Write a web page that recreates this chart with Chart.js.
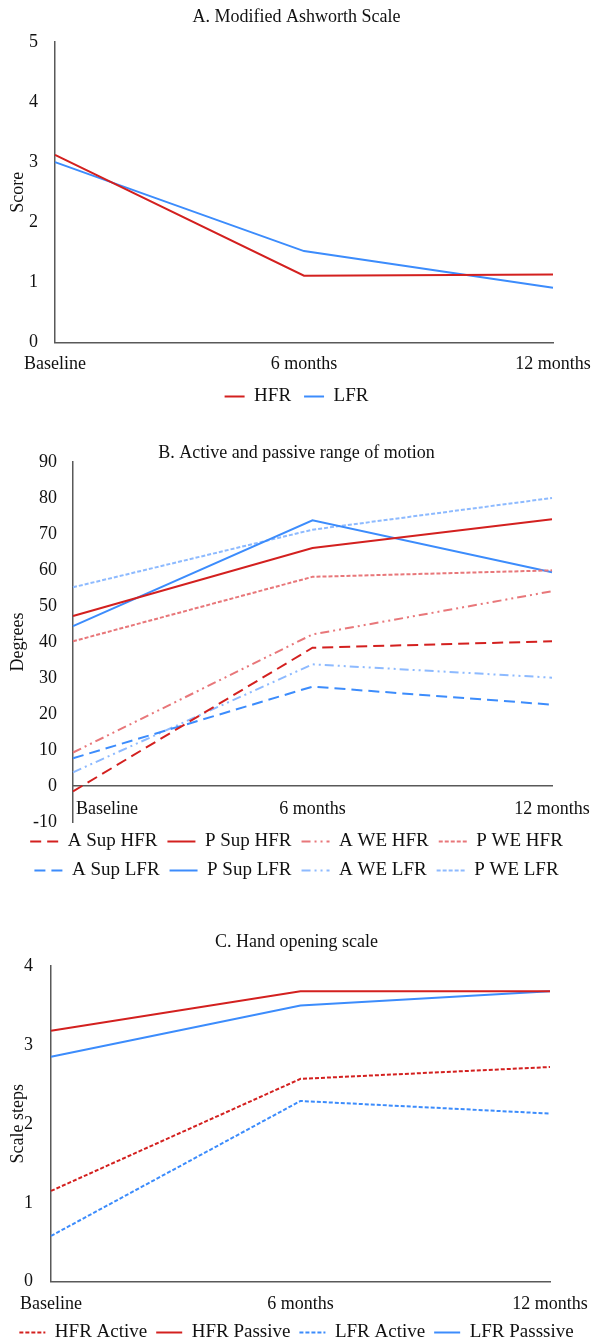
<!DOCTYPE html>
<html>
<head>
<meta charset="utf-8">
<script src="https://cdn.jsdelivr.net/npm/chart.js@4"></script>
<style>
  body { margin: 0; background: #fff; overflow: hidden; }
  .panel { position: absolute; left: 0; }
</style>
</head>
<body>
<div class="panel" style="top:0"><canvas id="chartA" width="593" height="416"></canvas></div>
<div class="panel" style="top:430px"><canvas id="chartB" width="593" height="460"></canvas></div>
<div class="panel" style="top:890px"><canvas id="chartC" width="593" height="462"></canvas></div>
<script>
const categories = ['Baseline', '6 months', '12 months'];

// A. Modified Ashworth Scale
const masHFR = [3.12, 1.11, 1.13];
const masLFR = [3.0, 1.52, 0.91];

// B. Active and passive range of motion
const aSupHFR = [-1.5, 38.4, 40.2];
const pSupHFR = [47.2, 66.1, 74.1];
const aWeHFR = [9.3, 42.1, 54.1];
const pWeHFR = [40.2, 58.1, 59.9];
const aSupLFR = [7.7, 27.6, 22.6];
const pSupLFR = [44.4, 73.8, 59.4];
const aWeLFR = [3.8, 33.8, 30.1];
const pWeLFR = [55.2, 71.2, 80.0];

// C. Hand opening scale
const hfrActive = [1.15, 2.57, 2.72];
const hfrPassive = [3.18, 3.68, 3.68];
const lfrActive = [0.58, 2.29, 2.13];
const lfrPassive = [2.85, 3.50, 3.68];

const RED = '#d3201f';
const BLUE = '#3c8cfc';
const LIGHT_RED = '#e8777a';
const LIGHT_BLUE = '#8dbaff';
const AXIS = '#595959';
const TEXT = '#111';
const FONT = '"Liberation Serif", "Times New Roman", serif';

Chart.defaults.font.family = FONT;
Chart.defaults.font.size = 18;
Chart.defaults.color = TEXT;

const LONG_DASH = [11, 6];
const SHORT_DASH = [4, 2];
const DASH_DOT_DOT = [9, 4, 2, 4, 2, 4];

function serie(label, data, color, dash) {
  return {
    label: label,
    data: data,
    borderColor: color,
    backgroundColor: color,
    borderWidth: 2,
    borderDash: dash || [],
    pointRadius: 0,
    tension: 0,
    fill: false
  };
}

// the legend takes the point style by default, so copy the line look back in
function legendLines(chart) {
  const items = Chart.defaults.plugins.legend.labels.generateLabels(chart);
  items.forEach(item => {
    const ds = chart.data.datasets[item.datasetIndex];
    item.lineDash = ds.borderDash;
    item.lineWidth = ds.borderWidth;
    item.strokeStyle = ds.borderColor;
  });
  return items;
}

// category labels under the x axis, placed from the x scale
const xLabels = {
  id: 'xLabels',
  afterDraw(chart, args, opts) {
    const ctx = chart.ctx;
    const x = chart.scales.x;
    const base = opts.atZero ? chart.scales.y.getPixelForValue(0) : chart.chartArea.bottom;
    ctx.save();
    ctx.font = '18px ' + FONT;
    ctx.fillStyle = TEXT;
    ctx.textBaseline = 'middle';
    categories.forEach((c, i) => {
      const px = x.getPixelForValue(i);
      // Excel pushes the first label off the y axis when the axis crosses at zero
      const left = opts.firstLeft && i === 0;
      ctx.textAlign = left ? 'left' : 'center';
      ctx.fillText(c, left ? px + 3 : px, base + opts.offset);
    });
    ctx.restore();
  }
};

function baseOptions(cfg) {
  return {
    responsive: false,
    animation: false,
    devicePixelRatio: 1,
    plugins: {
      title: {
        display: true,
        text: cfg.title,
        color: TEXT,
        font: { size: 18, weight: 'normal', lineHeight: 1 },
        padding: { top: cfg.titleTop, bottom: cfg.titleBottom }
      },
      legend: {
        position: 'bottom',
        labels: {
          usePointStyle: true,
          pointStyle: 'line',
          pointStyleWidth: cfg.boxWidth,
          boxWidth: cfg.boxWidth,
          padding: cfg.legendPad,
          color: TEXT,
          font: { size: 19 },
          generateLabels: legendLines
        }
      },
      tooltip: { enabled: false },
      xLabels: { offset: cfg.labelOffset, atZero: false, firstLeft: false }
    },
    scales: {
      x: {
        offset: false,
        afterFit: function (scale) { scale.height = cfg.xHeight; },
        grid: { display: false, drawTicks: false },
        border: { display: true, color: AXIS, width: 1.5 },
        ticks: { display: false }
      },
      y: {
        min: cfg.min,
        max: cfg.max,
        afterFit: function (scale) { scale.width = cfg.yWidth; },
        grid: { display: false, drawTicks: false },
        border: { display: true, color: AXIS, width: 1.5 },
        ticks: { stepSize: cfg.step, padding: cfg.yPad },
        title: { display: true, text: cfg.yTitle, padding: { top: 7 } }
      },
      // empty right axis, only keeps room for the last x label
      yRight: {
        position: 'right',
        afterFit: function (scale) { scale.width = cfg.padRight; },
        grid: { display: false, drawTicks: false },
        border: { display: false },
        ticks: { display: false }
      }
    }
  };
}

// chart A
new Chart(document.getElementById('chartA'), {
  type: 'line',
  data: {
    labels: categories,
    datasets: [
      serie('HFR', masHFR, RED),
      serie('LFR', masLFR, BLUE)
    ]
  },
  options: baseOptions({
    title: 'A. Modified Ashworth Scale', titleTop: 8, titleBottom: 16,
    min: 0, max: 5, step: 1, yWidth: 55, yPad: 17, yTitle: 'Score',
    xHeight: 31.6, labelOffset: 21.6, legendPad: 13, boxWidth: 20, padRight: 40
  }),
  plugins: [xLabels]
});

// chart B: x axis sits on zero
const optsB = baseOptions({
  title: 'B. Active and passive range of motion', titleTop: 14, titleBottom: 0,
  min: -10, max: 90, step: 10, yWidth: 73, yPad: 16, yTitle: 'Degrees',
  xHeight: 0, labelOffset: 23, legendPad: 10, boxWidth: 28, padRight: 41
});
optsB.scales.x.position = { y: 0 };
optsB.plugins.xLabels.atZero = true;
optsB.plugins.xLabels.firstLeft = true;

new Chart(document.getElementById('chartB'), {
  type: 'line',
  data: {
    labels: categories,
    datasets: [
      serie('A Sup HFR', aSupHFR, RED, LONG_DASH),
      serie('P Sup HFR', pSupHFR, RED),
      serie('A WE HFR', aWeHFR, LIGHT_RED, DASH_DOT_DOT),
      serie('P WE HFR', pWeHFR, LIGHT_RED, SHORT_DASH),
      serie('A Sup LFR', aSupLFR, BLUE, LONG_DASH),
      serie('P Sup LFR', pSupLFR, BLUE),
      serie('A WE LFR', aWeLFR, LIGHT_BLUE, DASH_DOT_DOT),
      serie('P WE LFR', pWeLFR, LIGHT_BLUE, SHORT_DASH)
    ]
  },
  options: optsB,
  plugins: [xLabels]
});

// chart C
new Chart(document.getElementById('chartC'), {
  type: 'line',
  data: {
    labels: categories,
    datasets: [
      serie('HFR Active', hfrActive, RED, SHORT_DASH),
      serie('HFR Passive', hfrPassive, RED),
      serie('LFR Active', lfrActive, BLUE, SHORT_DASH),
      serie('LFR Passsive', lfrPassive, BLUE)
    ]
  },
  options: baseOptions({
    title: 'C. Hand opening scale', titleTop: 43, titleBottom: 15,
    min: 0, max: 4, step: 1, yWidth: 51, yPad: 18, yTitle: 'Scale steps',
    xHeight: 32.3, labelOffset: 22.3, legendPad: 9, boxWidth: 26, padRight: 43
  }),
  plugins: [xLabels]
});
</script>
</body>
</html>
